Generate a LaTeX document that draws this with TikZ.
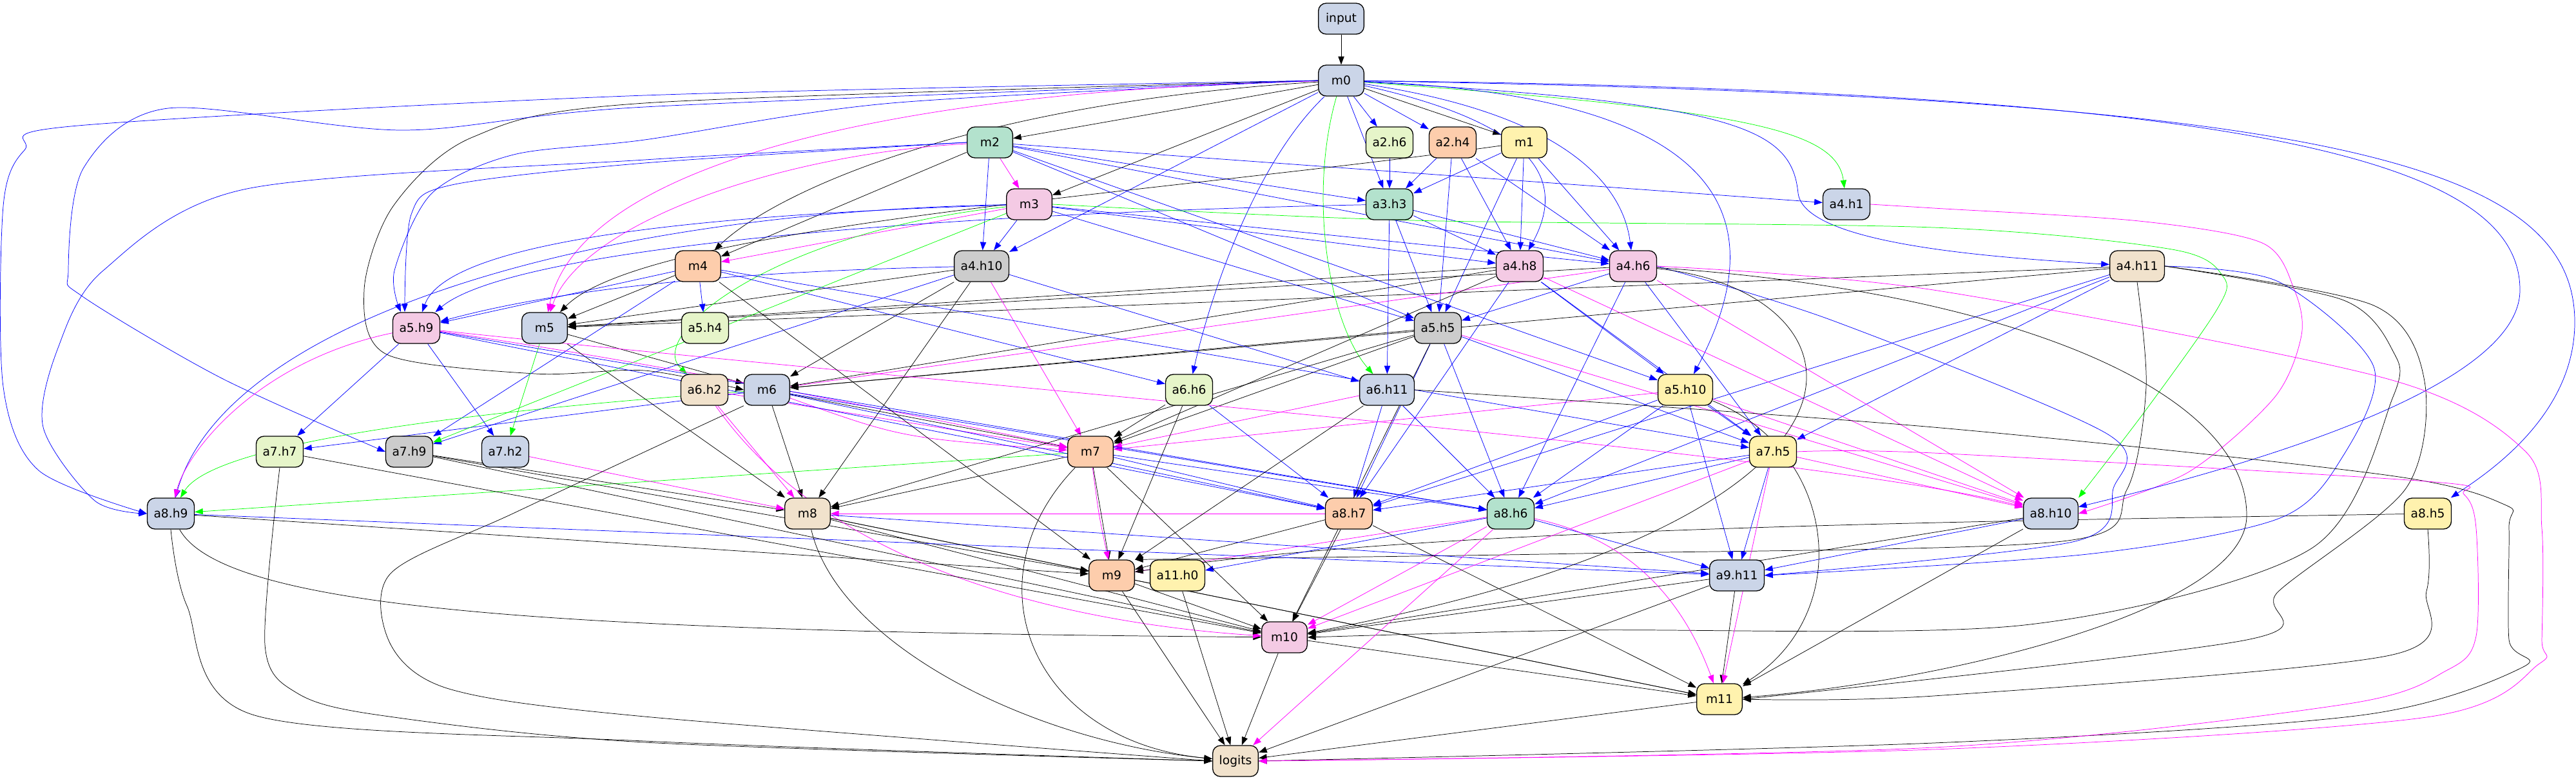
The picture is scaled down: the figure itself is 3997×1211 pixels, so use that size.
\documentclass[tikz,border=0pt]{standalone}
\usepackage{fontspec}
\setmainfont{DejaVu Sans}
\usetikzlibrary{arrows.meta,backgrounds}
\definecolor{pA}{HTML}{B3E2CD}
\definecolor{pB}{HTML}{FDCDAC}
\definecolor{pC}{HTML}{CBD5E8}
\definecolor{pD}{HTML}{F4CAE4}
\definecolor{pE}{HTML}{E6F5C9}
\definecolor{pF}{HTML}{FFF2AE}
\definecolor{pG}{HTML}{F1E2CC}
\definecolor{pH}{HTML}{CCCCCC}
\definecolor{eB}{HTML}{0000FF}
\definecolor{eM}{HTML}{FF00FF}
\definecolor{eG}{HTML}{00FF00}
\tikzset{
  nd/.style={draw=black, line width=1pt, rounded corners=9pt, minimum width=53pt, minimum height=36pt,
    inner xsep=7.5pt, font=\fontsize{14pt}{16pt}\selectfont},
  ed/.style={line width=0.55pt, -{Triangle[length=9.5pt,width=7pt]}},
  ek/.style={ed, draw=black},
  eb/.style={ed, draw=eB},
  em/.style={ed, draw=eM},
  eg/.style={ed, draw=eG},
}
\begin{document}
\begin{tikzpicture}[x=0.75pt,y=-0.75pt]
\useasboundingbox (0,0) rectangle (3997,1211);
% nodes
\node[nd,fill=pC] (input) at (2081,29) {input};
\node[nd,fill=pC] (m0) at (2081,125) {m0};
\node[nd,fill=pA] (m2) at (1536,221) {m2};
\node[nd,fill=pE] (a2h6) at (2156,221) {a2.h6};
\node[nd,fill=pB] (a2h4) at (2254,221) {a2.h4};
\node[nd,fill=pF] (m1) at (2365,221) {m1};
\node[nd,fill=pD] (m3) at (1597,317) {m3};
\node[nd,fill=pA] (a3h3) at (2156,317) {a3.h3};
\node[nd,fill=pC] (a4h1) at (2865,317) {a4.h1};
\node[nd,fill=pB] (m4) at (1083,413) {m4};
\node[nd,fill=pH] (a4h10) at (1523,413) {a4.h10};
\node[nd,fill=pD] (a4h8) at (2358,413) {a4.h8};
\node[nd,fill=pD] (a4h6) at (2534,413) {a4.h6};
\node[nd,fill=pG] (a4h11) at (3316,413) {a4.h11};
\node[nd,fill=pD] (a5h9) at (646,509) {a5.h9};
\node[nd,fill=pC] (m5) at (845,509) {m5};
\node[nd,fill=pE] (a5h4) at (1094,509) {a5.h4};
\node[nd,fill=pH] (a5h5) at (2231,509) {a5.h5};
\node[nd,fill=pG] (a6h2) at (1093,605) {a6.h2};
\node[nd,fill=pC] (m6) at (1190,605) {m6};
\node[nd,fill=pE] (a6h6) at (1845,605) {a6.h6};
\node[nd,fill=pC] (a6h11) at (2152,605) {a6.h11};
\node[nd,fill=pF] (a5h10) at (2615,605) {a5.h10};
\node[nd,fill=pE] (a7h7) at (434,701) {a7.h7};
\node[nd,fill=pH] (a7h9) at (635,701) {a7.h9};
\node[nd,fill=pC] (a7h2) at (784,701) {a7.h2};
\node[nd,fill=pB] (m7) at (1692,701) {m7};
\node[nd,fill=pF] (a7h5) at (2751,701) {a7.h5};
\node[nd,fill=pC] (a8h9) at (265,797) {a8.h9};
\node[nd,fill=pG] (m8) at (1253,797) {m8};
\node[nd,fill=pB] (a8h7) at (2093,797) {a8.h7};
\node[nd,fill=pA] (a8h6) at (2344,797) {a8.h6};
\node[nd,fill=pC] (a8h10) at (3182,797) {a8.h10};
\node[nd,fill=pF] (a8h5) at (3767,797) {a8.h5};
\node[nd,fill=pB] (m9) at (1725,893) {m9};
\node[nd,fill=pF] (a11h0) at (1827,893) {a11.h0};
\node[nd,fill=pC] (a9h11) at (2695,893) {a9.h11};
\node[nd,fill=pD] (m10) at (1993,989) {m10};
\node[nd,fill=pF] (m11) at (2668,1085) {m11};
\node[nd,fill=pG] (logits) at (1917,1181) {logits};
\begin{pgfonlayer}{background}
% ranks 1-3
\draw[ek] (input) -- (m0);
\draw[ek] (m0) -- (m2);
\draw[eb] (m0) -- (a2h6);
\draw[eb] (m0) -- (a2h4);
\draw[ek] (m0) -- (m1);
\draw[ek] (m0) -- (m3);
\draw[em] (m2) -- (m3);
\draw[eb] (m0) -- (a3h3);
\draw[eb] (a2h6) -- (a3h3);
\draw[eb] (a2h4) -- (a3h3);
\draw[eb] (m1) -- (a3h3);
\draw[eb] (m2) -- (a3h3);
\draw[eg] (m0) .. controls (2700,170) and (2850,200) .. (a4h1);
\draw[eb] (m2) -- (a4h1);
% rank 4
\draw[ek] (m0) .. controls (1500,160) and (1200,300) .. (m4);
\draw[ek] (m2) -- (m4);
\draw[em] (m3) -- (m4);
\draw[eb] (m2) -- (a4h10);
\draw[eb] (m3) -- (a4h10);
\draw[eb] (m0) -- (a4h10);
\draw[eb] (a3h3) -- (a4h8);
\draw[eb] (a2h4) -- (a4h8);
\draw[eb] (m1) -- (a4h8);
\draw[eb] (m0) .. controls (2420,200) and (2420,300) .. (a4h8);
\draw[eb] (m3) -- (a4h8);
\draw[eb] (a2h4) -- (a4h6);
\draw[eb] (m1) -- (a4h6);
\draw[eb] (m0) .. controls (2450,180) and (2520,300) .. (a4h6);
\draw[eb] (a3h3) -- (a4h6);
\draw[eb] (m3) -- (a4h6);
\draw[eb] (m2) -- (a4h6);
\draw[eb] (m0) .. controls (2700,160) and (2780,200) .. (2790,300) .. controls (2800,380) and (3100,400) .. (a4h11);
% rank 5
\draw[eb] plot[smooth,tension=0.5] coordinates {(m0.west) (1383,160) (1000,217) (797,240) (670,300) (612,420) (622,484)};
\draw[eb] plot[smooth,tension=0.5] coordinates {(m2.west) (1000,253) (701,287) (638,333) (628,484)};
\draw[eb] (m3) .. controls (1200,330) and (700,360) .. (a5h9);
\draw[eb] (a3h3) .. controls (1500,330) and (800,380) .. (a5h9);
\draw[eb] (m4) -- (a5h9);
\draw[eb] (a4h10) .. controls (1200,420) and (900,440) .. (a5h9);
\draw[em] (m0) .. controls (1400,140) and (900,250) .. (m5);
\draw[em] (m2) .. controls (1200,240) and (900,350) .. (m5);
\draw[ek] (m1) .. controls (1800,300) and (1000,350) .. (m5);
\draw[ek] (m4) -- (m5);
\draw[ek] (a4h10) -- (m5);
\draw[ek] (a4h8) -- (m5);
\draw[ek] (a4h6) -- (m5);
\draw[ek] (a4h11) -- (m5);
\draw[eb] (m4) -- (a5h4);
\draw[eb] (a2h4) -- (a5h5);
\draw[eb] (a3h3) -- (a5h5);
\draw[eb] (m2) -- (a5h5);
\draw[eb] (m3) -- (a5h5);
\draw[eb] (a4h6) -- (a5h5);
\draw[eb] (m1) -- (a5h5);
% rank 6
\draw[eg] (m3) .. controls (1200,360) and (1000,520) .. (a6h2);
\draw[ek] plot[smooth,tension=0.5] coordinates {(m0.west) (1000,160) (733,213) (610,320) (565,450) (600,550) (830,580) (1000,575) (m6.west)};
\draw[ek] (a4h10) -- (m6);
\draw[em] (a4h6) -- (m6);
\draw[ek] (a5h5) -- (m6);
\draw[ek] (a4h8) -- (m6);
\draw[ek] (m5) -- (m6);
\draw[ek] (a4h11) -- (m6);
\draw[eb] (m4) -- (a6h6);
\draw[eb] (m0) .. controls (1950,250) and (1880,450) .. (a6h6);
\draw[eg] (m0) .. controls (2030,300) and (2060,500) .. (a6h11);
\draw[eb] (a3h3) -- (a6h11);
\draw[eb] (a4h10) -- (a6h11);
\draw[eb] (m0) .. controls (2700,150) and (2750,350) .. (a5h10);
\draw[eb] (a4h8) -- (a5h10);
\draw[eb] (m2) -- (a5h10);
% rank 7
\draw[eb] (a5h9) -- (a7h7);
\draw[eb] (m6) -- (a7h7);
\draw[eb] (a4h10) -- (a7h9);
\draw[eg] (m3) -- (a7h9);
\draw[eb] (m4) -- (a7h9);
\draw[eb] plot[smooth,tension=0.5] coordinates {(m0.west) (1000,166) (625,202) (261,168) (130,260) (106,420) (128,460) (344,587) (a7h9.west)};
\draw[eb] (a5h9) -- (a7h2);
\draw[eg] (m5) -- (a7h2);
\draw[em] (a4h10) -- (m7);
\draw[ek] (m6) -- (m7);
\draw[em] (m6) .. controls (1400,680) .. (m7);
\draw[em] (a6h2) -- (m7);
\draw[ek] (a6h6) -- (m7);
\draw[ek] (a5h5) -- (m7);
\draw[ek] (a4h8) -- (m7);
\draw[em] (a5h10) -- (m7);
\draw[em] (a6h11) -- (m7);
\draw[em] (a5h9) .. controls (1000,560) and (1400,640) .. (m7);
\draw[eb] (a5h10) -- (a7h5);
\draw[eb] (a5h5) -- (a7h5);
\draw[eb] (a4h8) -- (a7h5);
\draw[eb] (a4h6) -- (a7h5);
\draw[eb] (a4h11) -- (a7h5);
\draw[eb] (m4) -- (a7h5);
% rank 8
\draw[eb] plot[smooth,tension=0.5] coordinates {(m0.west) (1000,148) (121,195) (38,233) (5,320) (5,600) (60,730) (a8h9.west)};
\draw[eb] plot[smooth,tension=0.5] coordinates {(m2.west) (1000,248) (383,293) (160,420) (90,540) (67,663) (147,777) (a8h9.west)};
\draw[eb] (m3) .. controls (900,330) and (350,500) .. (a8h9);
\draw[em] (a5h9) .. controls (400,560) and (290,700) .. (a8h9);
\draw[eg] (m6) .. controls (700,640) and (330,690) .. (a8h9);
\draw[eg] (m7) -- (a8h9);
\draw[ek] (m6) -- (m8);
\draw[em] (a6h2) -- (m8);
\draw[ek] (m5) -- (m8);
\draw[ek] (a4h10) -- (m8);
\draw[ek] (a5h5) -- (m8);
\draw[ek] (a7h9) -- (m8);
\draw[em] (a7h2) -- (m8);
\draw[ek] (m7) -- (m8);
\draw[em] (a8h7) -- (m8);
\draw[eb] (a5h5) -- (a8h7);
\draw[eb] (a6h6) -- (a8h7);
\draw[eb] (a6h11) -- (a8h7);
\draw[eb] (a5h10) -- (a8h7);
\draw[eb] (a7h5) -- (a8h7);
\draw[eb] (m7) -- (a8h7);
\draw[eb] (a5h9) -- (a8h7);
\draw[eb] (m6) -- (a8h7);
\draw[eb] (a4h8) -- (a8h7);
\draw[eb] (a4h11) -- (a8h7);
\draw[eb] (a6h11) -- (a8h6);
\draw[eb] (a5h5) -- (a8h6);
\draw[eb] (a5h10) -- (a8h6);
\draw[eb] (a7h5) -- (a8h6);
\draw[eb] (m7) -- (a8h6);
\draw[eb] (m6) -- (a8h6);
\draw[eb] (a5h9) -- (a8h6);
\draw[eb] (a4h6) -- (a8h6);
\draw[eb] (a4h11) -- (a8h6);
\draw[em] plot[smooth,tension=0.5] coordinates {(a4h1.east) (3000,323) (3319,343) (3510,377) (3560,450) (3571,520) (3529,617) (3395,733) (a8h10.east)};
\draw[eg] plot[smooth,tension=0.5] coordinates {(m3.east) (2191,342) (3000,353) (3370,387) (3450,430) (3440,480) (3332,633) (a8h10.north east)};
\draw[em] (a4h8) -- (a8h10);
\draw[em] (a4h6) -- (a8h10);
\draw[em] (a5h5) -- (a8h10);
\draw[em] (a5h10) -- (a8h10);
\draw[em] (a7h5) -- (a8h10);
\draw[em] (a5h9) .. controls (1500,600) and (2800,700) .. (a8h10);
\draw[eb] (m0) .. controls (3500,140) and (3910,250) .. (3910,450) .. controls (3910,600) and (3500,720) .. (a8h10);
\draw[eb] (m0) .. controls (3600,150) and (3995,250) .. (3995,500) .. controls (3995,650) and (3850,740) .. (a8h5);
% rank 9
\draw[ek] (a8h9) -- (m9);
\draw[ek] (m8) -- (m9);
\draw[ek] (a7h9) -- (m9);
\draw[ek] (m7) -- (m9);
\draw[em] (m7) .. controls (1705,800) .. (m9);
\draw[ek] (a6h6) -- (m9);
\draw[ek] (a6h11) -- (m9);
\draw[ek] (a8h7) -- (m9);
\draw[em] (a8h6) -- (m9);
\draw[ek] (m4) -- (m9);
\draw[ek] (a8h5) .. controls (3000,810) and (2200,820) .. (m9);
\draw[ek] plot[smooth,tension=0.5] coordinates {(a4h11.south) (3330,600) (3300,760) (3200,840) (2450,859) (m9.north east)};
\draw[eb] (a8h6) -- (a11h0);
\draw[eb] (a7h5) -- (a9h11);
\draw[eb] (a5h10) -- (a9h11);
\draw[eb] (a8h6) -- (a9h11);
\draw[eb] (a8h9) -- (a9h11);
\draw[eb] (m8) -- (a9h11);
\draw[eb] (a8h10) -- (a9h11);
\draw[eb] plot[smooth,tension=0.5] coordinates {(a4h11.east) (3535,437) (3683,569) (3634,710) (3535,805) (3239,860) (a9h11.east)};
\draw[eb] plot[smooth,tension=0.5] coordinates {(a4h6.east) (2845,498) (3269,673) (3279,758) (3220,840) (a9h11.east)};
% rank 10
\draw[ek] (m9) -- (m10);
\draw[ek] (m8) -- (m10);
\draw[ek] (a8h9) .. controls (350,950) and (900,980) .. (m10);
\draw[ek] (a7h9) -- (m10);
\draw[em] (a6h2) .. controls (1300,900) and (1700,970) .. (m10);
\draw[ek] (a7h7) -- (m10);
\draw[ek] (m7) -- (m10);
\draw[ek] (a8h7) -- (m10);
\draw[ek] (a5h5) -- (m10);
\draw[em] (a8h6) -- (m10);
\draw[em] (a7h5) -- (m10);
\draw[ek] (a9h11) -- (m10);
\draw[ek] (a8h10) -- (m10);
\draw[ek] plot[smooth,tension=0.5] coordinates {(a4h11.east) (3634,465) (3713,545) (3713,616) (3585,852) (3141,970) (2450,978) (m10.east)};
\draw[ek] (a4h6) .. controls (2900,450) and (3000,800) .. (m10);
% rank 11
\draw[ek] (a8h7) -- (m11);
\draw[ek] (m10) -- (m11);
\draw[ek] (m9) -- (m11);
\draw[ek] (m8) -- (m11);
\draw[em] (a8h6) .. controls (2500,830) and (2600,900) .. (m11);
\draw[ek] (a9h11) -- (m11);
\draw[em] (a7h5) -- (m11);
\draw[ek] (a5h10) .. controls (2850,700) and (2880,950) .. (m11);
\draw[ek] (a8h10) -- (m11);
\draw[ek] plot[smooth,tension=0.5] coordinates {(a8h5.south) (3765,917) (3708,1017) (3000,1080) (m11.east)};
\draw[ek] plot[smooth,tension=0.5] coordinates {(a4h11.east) (3683,474) (3762,592) (3733,758) (3535,918) (3486,993) (m11.east)};
\draw[ek] (a4h6) .. controls (3100,450) and (3486,600) .. (3486,800) .. controls (3486,950) and (3000,1060) .. (m11);
% logits
\draw[ek] (m9) -- (logits);
\draw[ek] (a11h0) -- (logits);
\draw[ek] (m10) -- (logits);
\draw[ek] (m7) .. controls (1500,900) and (1600,1150) .. (logits);
\draw[ek] (m8) .. controls (1300,1000) and (1600,1150) .. (logits);
\draw[ek] plot[smooth,tension=0.5] coordinates {(a8h9.south) (290,940) (395,1110) (1000,1150) (logits.west)};
\draw[ek] plot[smooth,tension=0.5] coordinates {(a7h7.south) (411,1000) (460,1075) (590,1110) (1000,1152) (logits.west)};
\draw[ek] plot[smooth,tension=0.5] coordinates {(m6.south west) (800,795) (606,890) (606,1000) (700,1070) (1000,1112) (logits.west)};
\draw[em] (a8h6) -- (logits);
\draw[ek] (m11) -- (logits);
\draw[ek] (a9h11) -- (logits);
\draw[em] plot[smooth,tension=0.5] coordinates {(a4h6.east) (3000,450) (3701,587) (3918,700) (3944,820) (3944,993) (3940,1030) (3765,1113) (3000,1163) (logits.east)};
\draw[ek] plot[smooth,tension=0.5] coordinates {(a6h11.east) (3000,663) (3701,737) (3886,783) (3893,820) (3893,993) (3915,1035) (3663,1110) (3000,1153) (logits.east)};
\draw[em] plot[smooth,tension=0.5] coordinates {(a7h5.east) (3000,703) (3765,747) (3823,767) (3842,820) (3842,987) (3797,1040) (3638,1093) (3000,1160) (logits.east)};
\end{pgfonlayer}
\end{tikzpicture}
\end{document}
